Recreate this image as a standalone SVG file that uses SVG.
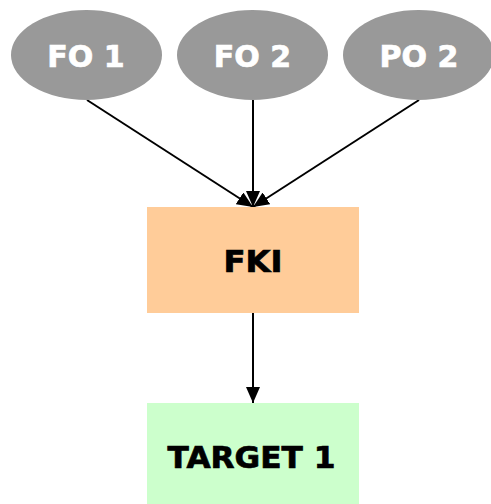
<svg xmlns="http://www.w3.org/2000/svg" width="491" height="504" viewBox="0 0 491 504">
<style>
.ell{fill:#999999;stroke:none}
.lbl{font-family:"DejaVu Sans","Verdana",sans-serif;font-weight:bold;font-size:30px;text-anchor:middle;stroke-width:0.7px}
.w{fill:#ffffff;stroke:#ffffff}
.k{fill:#000000;stroke:#000000}
.edge{stroke:#000000;stroke-width:2;fill:none}
</style>
<defs>
<marker id="arr" viewBox="0 0 16 14" refX="16" refY="7" markerWidth="16" markerHeight="14" markerUnits="userSpaceOnUse" orient="auto">
<path d="M0,0 L16,7 L0,14 Z" fill="#000000"/>
</marker>
</defs>
<rect width="491" height="504" fill="#ffffff"/>
<g id="connectors">
<line class="edge" x1="87" y1="100" x2="253" y2="207" marker-end="url(#arr)"/>
<line class="edge" x1="253" y1="100" x2="253" y2="207" marker-end="url(#arr)"/>
<line class="edge" x1="419" y1="100" x2="253" y2="207" marker-end="url(#arr)"/>
<line class="edge" x1="253" y1="313" x2="253" y2="403" marker-end="url(#arr)"/>
</g>
<g id="fo1">
<ellipse class="ell" cx="86.5" cy="55" rx="75.5" ry="45"/>
<text class="lbl w" x="86" y="67">FO 1</text>
</g>
<g id="fo2">
<ellipse class="ell" cx="252.5" cy="55" rx="75.5" ry="45"/>
<text class="lbl w" x="252.5" y="67">FO 2</text>
</g>
<g id="po2">
<ellipse class="ell" cx="418.5" cy="55" rx="75.5" ry="45"/>
<text class="lbl w" x="419" y="67">PO 2</text>
</g>
<g id="fki">
<rect x="147" y="207" width="212" height="106" fill="#ffcc99"/>
<text class="lbl k" x="253" y="272" textLength="59" lengthAdjust="spacingAndGlyphs">FKI</text>
</g>
<g id="target1">
<rect x="147" y="403" width="212" height="106" fill="#ccffcc"/>
<text class="lbl k" x="251.5" y="468" textLength="168" lengthAdjust="spacingAndGlyphs">TARGET 1</text>
</g>
</svg>
